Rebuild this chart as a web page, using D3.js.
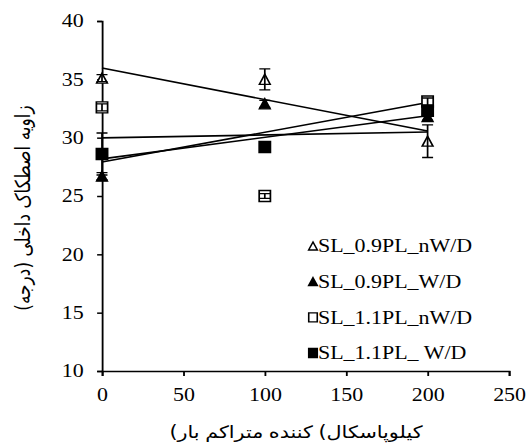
<!DOCTYPE html>
<html lang="fa">
<head>
<meta charset="UTF-8">
<title>Internal friction angle vs. consolidation load</title>
<script src="https://d3js.org/d3.v7.min.js"></script>
<style>
  body { margin: 0; padding: 0; background: #fff; }
  svg { display: block; }
  .axis path, .axis line { stroke: #000; stroke-width: 1.5px; }
  .axis text { font-family: "Liberation Serif", serif; font-size: 18px; fill: #000; }
  .legend text { font-family: "Liberation Serif", serif; font-size: 18px; fill: #000; }
  .title { font-family: "DejaVu Sans", sans-serif; font-size: 17px; fill: #000; }
</style>
</head>
<body>
<svg id="chart"></svg>
<script>
// data
const loads = [0, 100, 200];
const xTicks = [0, 50, 100, 150, 200, 250];
const yTicks = [10, 15, 20, 25, 30, 35, 40];

const seriesNames = ["SL_0.9PL_nW/D", "SL_0.9PL_W/D", "SL_1.1PL_nW/D", "SL_1.1PL_ W/D"];
const phi09nWD = [35.1, 35.0, 29.7];
const err09nWD = [0.3, 0.9, 1.4];
const phi09WD = [26.7, 32.9, 31.8];
const err09WD = [0.3, 0.3, 0.3];
const phi11nWD = [32.6, 25.0, 33.1];
const err11nWD = [0.3, 0.2, 0.3];
const phi11WD = [28.6, 29.2, 32.3];
const err11WD = [1.8, 0.2, 0.3];

const yTitle = "زاویه اصطکاک داخلی (درجه)";
// x title pieces, in the left-to-right order they appear in the picture ("" = word gap)
const xTitleParts = ["(", "بار", "", "متراکم", "", "کننده", "", "(", "کیلوپاسکال"];

// the original picture is stretched sideways, so draw in a narrower box
const W = 528, H = 447, stretch = 1.22;
const VW = W / stretch;

const series = [
  { name: seriesNames[0], y: phi09nWD, err: err09nWD, shape: "tri", fill: "#fff" },
  { name: seriesNames[1], y: phi09WD, err: err09WD, shape: "tri", fill: "#000" },
  { name: seriesNames[2], y: phi11nWD, err: err11nWD, shape: "sq", fill: "#fff" },
  { name: seriesNames[3], y: phi11WD, err: err11WD, shape: "sq", fill: "#000" }
];

const svg = d3.select("#chart")
  .attr("width", W)
  .attr("height", H)
  .attr("viewBox", `0 0 ${VW} ${H}`)
  .attr("preserveAspectRatio", "none");

const x = d3.scaleLinear().domain([0, 250]).range([102 / stretch, 509 / stretch]);
const y = d3.scaleLinear().domain([10, 40]).range([371, 21]);

svg.append("g")
  .attr("class", "axis")
  .attr("transform", `translate(0,${y(10)})`)
  .call(d3.axisBottom(x).tickValues(xTicks).tickSize(5).tickSizeOuter(5).tickPadding(12));

svg.append("g")
  .attr("class", "axis")
  .attr("transform", `translate(${x(0)},0)`)
  .call(d3.axisLeft(y).tickValues(yTicks).tickSize(4).tickSizeOuter(4).tickPadding(11));

// marker shapes (hw = half width in box units, h = height)
function markerPath(shape, cx, cy, hw, h) {
  const p = d3.path();
  if (shape === "tri") {
    p.moveTo(cx, cy - h / 2);
    p.lineTo(cx + hw, cy + h / 2);
    p.lineTo(cx - hw, cy + h / 2);
    p.closePath();
  } else {
    p.rect(cx - hw, cy - h / 2, hw * 2, h);
  }
  return p.toString();
}

// least-squares trend lines
function fit(xs, ys) {
  const mx = d3.mean(xs), my = d3.mean(ys);
  const b = d3.sum(xs, (v, i) => (v - mx) * (ys[i] - my)) / d3.sum(xs, v => (v - mx) ** 2);
  return { a: my - b * mx, b: b };
}

const trendG = svg.append("g");
series.forEach(s => {
  const f = fit(loads, s.y);
  const ends = [loads[0], loads[loads.length - 1]];
  trendG.append("path")
    .attr("d", d3.line().x(d => x(d)).y(d => y(f.a + f.b * d))(ends))
    .attr("fill", "none")
    .attr("stroke", "#000")
    .attr("stroke-width", 1.6);
});

const markG = svg.append("g");
series.forEach(s => {
  const g = markG.append("g");
  g.selectAll("path.mark")
    .data(loads)
    .enter().append("path")
    .attr("class", "mark")
    .attr("d", (d, i) => markerPath(s.shape, x(d), y(s.y[i]), s.shape === "tri" ? 4.4 : 4.6, s.shape === "tri" ? 10 : 11))
    .attr("fill", s.fill)
    .attr("stroke", "#000")
    .attr("stroke-width", 1.4);

  // error bars over the markers
  loads.forEach((d, i) => {
    const cx = x(d), top = y(s.y[i] + s.err[i]), bot = y(s.y[i] - s.err[i]);
    const cap = 4.5;
    g.append("path")
      .attr("d", `M${cx},${top}V${bot}M${cx - cap},${top}H${cx + cap}M${cx - cap},${bot}H${cx + cap}`)
      .attr("fill", "none")
      .attr("stroke", "#000")
      .attr("stroke-width", 1.4);
  });
});

// legend
const legY = d3.scalePoint().domain(seriesNames).range([246, 353]);
const legend = svg.append("g").attr("class", "legend");
series.forEach(s => {
  const cy = legY(s.name);
  legend.append("path")
    .attr("d", markerPath(s.shape, 313 / stretch, cy, s.shape === "tri" ? 3.6 : 3.5, s.shape === "tri" ? 8 : 9))
    .attr("fill", s.fill)
    .attr("stroke", "#000")
    .attr("stroke-width", 1.3);
  legend.append("text")
    .attr("x", 318 / stretch)
    .attr("y", cy + 6.5)
    .text(s.name);
});

// x title: each piece is its own text, centred on its own slot, left to right
const xt = svg.append("g").attr("class", "title");
const gap = 4.5;
const pieces = xTitleParts.filter(t => t !== "").map(t => xt.append("text")
  .attr("y", 438)
  .attr("text-anchor", "middle")
  .text(t));
const widths = pieces.map(p => p.node().getComputedTextLength());
const gapsBefore = [];
let k = 0;
xTitleParts.forEach(t => {
  if (t === "") { gapsBefore[k] = (gapsBefore[k] || 0) + gap; }
  else { k++; }
});
const totalW = d3.sum(widths) + d3.sum(gapsBefore.filter(v => v));
let cursor = 296 / stretch - totalW / 2;
pieces.forEach((p, i) => {
  cursor += gapsBefore[i] || 0;
  p.attr("x", cursor + widths[i] / 2);
  cursor += widths[i];
});

svg.append("text")
  .attr("class", "title")
  .attr("transform", "rotate(-90)")
  .attr("x", -208)
  .attr("y", 23 / stretch + 5.5)
  .attr("direction", "rtl")
  .attr("text-anchor", "middle")
  .text(yTitle);
</script>
</body>
</html>
